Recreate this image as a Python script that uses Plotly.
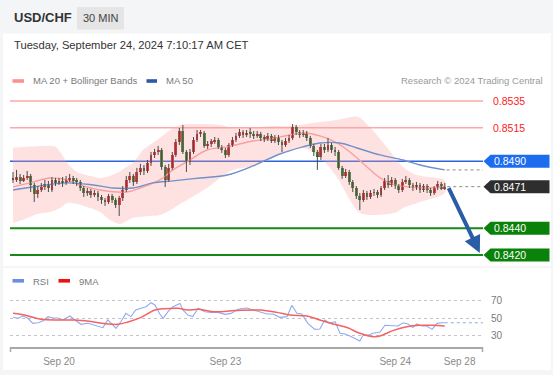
import plotly.graph_objects as go

# ---------------- DATA ----------------
open_ = [0.84775,0.84760,0.84782,0.84753,0.84775,0.84790,0.84723,0.84656,0.84685,0.84708,
         0.84730,0.84685,0.84760,0.84738,0.84753,0.84738,0.84760,0.84775,0.84753,0.84745,
         0.84700,0.84663,0.84678,0.84648,0.84663,0.84633,0.84611,0.84596,0.84641,0.84611,
         0.84573,0.84626,0.84685,0.84760,0.84790,0.84745,0.84820,0.84850,0.84827,0.84887,
         0.84947,0.84969,0.84984,0.84857,0.84760,0.84850,0.84947,0.85044,0.85126,0.84969,
         0.84895,0.84969,0.85059,0.85104,0.85111,0.85014,0.85029,0.85051,0.85059,0.85007,
         0.84984,0.84947,0.85021,0.85059,0.85089,0.85119,0.85096,0.85111,0.85104,0.85089,
         0.85104,0.85074,0.85066,0.85089,0.85051,0.85081,0.85044,0.85021,0.85051,0.85074,
         0.85156,0.85119,0.85096,0.85111,0.85074,0.85014,0.84969,0.84932,0.85007,0.84984,
         0.85021,0.84984,0.84969,0.84850,0.84790,0.84820,0.84745,0.84700,0.84641,0.84611,
         0.84663,0.84633,0.84663,0.84670,0.84648,0.84700,0.84753,0.84723,0.84760,0.84715,
         0.84685,0.84745,0.84760,0.84723,0.84700,0.84723,0.84685,0.84715,0.84685,0.84663,
         0.84700,0.84730,0.84693]
high = [0.84820,0.84835,0.84805,0.84797,0.84827,0.84805,0.84738,0.84715,0.84738,0.84760,
        0.84753,0.84782,0.84775,0.84775,0.84782,0.84790,0.84805,0.84790,0.84775,0.84760,
        0.84715,0.84700,0.84693,0.84685,0.84678,0.84648,0.84626,0.84656,0.84656,0.84626,
        0.84641,0.84715,0.84790,0.84820,0.84805,0.84850,0.84880,0.84872,0.84909,0.84969,
        0.84992,0.85014,0.84999,0.84872,0.84880,0.84969,0.85066,0.85148,0.85171,0.84984,
        0.84992,0.85081,0.85133,0.85133,0.85126,0.85051,0.85066,0.85081,0.85074,0.85021,
        0.84999,0.85036,0.85081,0.85111,0.85141,0.85133,0.85133,0.85148,0.85126,0.85126,
        0.85119,0.85096,0.85111,0.85104,0.85096,0.85096,0.85059,0.85074,0.85096,0.85178,
        0.85171,0.85133,0.85133,0.85126,0.85089,0.85029,0.84984,0.85029,0.85029,0.85074,
        0.85036,0.85007,0.84984,0.84865,0.84842,0.84835,0.84760,0.84715,0.84663,0.84685,
        0.84678,0.84685,0.84693,0.84685,0.84715,0.84775,0.84797,0.84782,0.84775,0.84730,
        0.84768,0.84790,0.84775,0.84738,0.84745,0.84738,0.84730,0.84730,0.84700,0.84715,
        0.84753,0.84745,0.84738]
low = [0.84738,0.84745,0.84730,0.84745,0.84760,0.84670,0.84596,0.84626,0.84670,0.84685,
       0.84670,0.84670,0.84715,0.84723,0.84708,0.84723,0.84745,0.84730,0.84715,0.84678,
       0.84633,0.84641,0.84626,0.84633,0.84603,0.84581,0.84566,0.84581,0.84588,0.84551,
       0.84491,0.84603,0.84670,0.84738,0.84715,0.84730,0.84797,0.84797,0.84812,0.84865,
       0.84924,0.84947,0.84835,0.84708,0.84745,0.84835,0.84932,0.85021,0.84954,0.84820,
       0.84872,0.84954,0.85044,0.85081,0.84999,0.84992,0.85007,0.85029,0.84992,0.84962,
       0.84924,0.84932,0.85007,0.85044,0.85074,0.85074,0.85081,0.85074,0.85066,0.85074,
       0.85051,0.85044,0.85051,0.85036,0.85036,0.85021,0.84969,0.85007,0.85036,0.85059,
       0.85096,0.85074,0.85081,0.85051,0.84999,0.84939,0.84835,0.84909,0.84962,0.84969,
       0.84962,0.84939,0.84835,0.84768,0.84775,0.84723,0.84670,0.84618,0.84536,0.84596,
       0.84611,0.84618,0.84641,0.84626,0.84633,0.84685,0.84700,0.84708,0.84693,0.84663,
       0.84670,0.84730,0.84700,0.84678,0.84685,0.84663,0.84670,0.84663,0.84641,0.84648,
       0.84685,0.84685,0.84685]
close = [0.84760,0.84782,0.84753,0.84775,0.84790,0.84723,0.84656,0.84685,0.84708,0.84730,
         0.84700,0.84760,0.84738,0.84753,0.84738,0.84760,0.84775,0.84753,0.84745,0.84700,
         0.84663,0.84678,0.84648,0.84663,0.84633,0.84611,0.84596,0.84641,0.84611,0.84573,
         0.84626,0.84685,0.84760,0.84790,0.84745,0.84820,0.84850,0.84827,0.84887,0.84947,
         0.84969,0.84984,0.84857,0.84760,0.84850,0.84947,0.85044,0.85126,0.84969,0.84895,
         0.84969,0.85059,0.85104,0.85111,0.85014,0.85029,0.85051,0.85059,0.85007,0.84984,
         0.84947,0.85021,0.85059,0.85089,0.85119,0.85096,0.85111,0.85104,0.85089,0.85104,
         0.85074,0.85066,0.85089,0.85051,0.85081,0.85044,0.85021,0.85051,0.85074,0.85156,
         0.85119,0.85096,0.85111,0.85074,0.85014,0.84969,0.84932,0.85007,0.84984,0.85021,
         0.84984,0.84969,0.84850,0.84790,0.84820,0.84745,0.84700,0.84641,0.84611,0.84663,
         0.84633,0.84663,0.84670,0.84648,0.84700,0.84753,0.84723,0.84760,0.84715,0.84685,
         0.84745,0.84760,0.84723,0.84700,0.84723,0.84685,0.84715,0.84685,0.84663,0.84700,
         0.84730,0.84693,0.84710]

bb_up_x = [0,7.6,11.9,13.8,15.3,18.1,21.8,24.6,27.4,29.4,31.6,33.9,36.7,40.7,44.4,47.2,52.8,
           58.5,62.1,66.9,72.6,78.2,84.7,91.5,97.5,100.8,105.6,110.2,114.1,119.8,122]
bb_up = [0.85000,0.85014,0.85010,0.84950,0.84887,0.84820,0.84790,0.84775,0.84790,0.84812,
         0.84850,0.84887,0.84984,0.85059,0.85133,0.85171,0.85178,0.85171,0.85148,0.85148,
         0.85163,0.85163,0.85186,0.85208,0.85231,0.85156,0.85007,0.84857,0.84797,0.84775,0.84760]
bb_lo_x = [0,3.4,6.8,10.5,13.3,15.3,18.1,20.9,24.6,27.4,30.2,33.9,38.7,41.5,43.5,46.3,49.2,
           54.8,58.5,62.1,67.8,72.6,76.8,81.9,86.7,91.5,95.2,98,103.7,108.5,110.2,115,122]
bb_lo = [0.84439,0.84469,0.84506,0.84521,0.84551,0.84588,0.84581,0.84558,0.84521,0.84461,
         0.84432,0.84476,0.84491,0.84499,0.84521,0.84566,0.84611,0.84700,0.84775,0.84835,
         0.84865,0.84924,0.84969,0.84999,0.84932,0.84782,0.84611,0.84514,0.84499,0.84521,
         0.84551,0.84596,0.84663]
ma20_x = [0,4.8,10.5,15.3,18.9,24.6,32.2,35.9,41.5,45.2,50,54.8,60.5,67.8,72.6,78.2,82.5,86.7,
          91,95.2,99.4,103.7,107.9,112.1,117.8,122]
ma20 = [0.84708,0.84738,0.84775,0.84760,0.84723,0.84685,0.84670,0.84700,0.84760,0.84835,
        0.84909,0.84984,0.85007,0.85051,0.85066,0.85096,0.85111,0.85089,0.85044,0.84969,
        0.84872,0.84775,0.84723,0.84708,0.84700,0.84715]
ma50_x = [0,5.6,15.3,22.6,28.2,33.9,39.5,45.2,52.8,60.5,67.8,75.4,81.9,86.7,92.4,97.2,103.7,
          110.2,115,122]
ma50 = [0.84685,0.84708,0.84738,0.84723,0.84700,0.84700,0.84738,0.84753,0.84775,0.84797,
        0.84865,0.84954,0.85007,0.85036,0.85036,0.84999,0.84947,0.84909,0.84872,0.84835]

rsi_x = [0,1.4,2.8,4.2,5.6,7.1,8.5,9.9,11.3,12.7,14.1,16.1,17.5,19.2,21.2,22.6,24,25.4,26.8,
         27.7,29.1,30.5,31.9,33.3,34.7,36.2,37.6,39,40.1,41.5,42.4,43.8,45.2,47.2,48,49.4,
         50.8,52.3,54.2,55.9,57.9,59.9,61.6,63.6,66.1,67.8,69.8,71.8,73.4,75.4,77.4,78.8,
         80.2,81.6,83.3,85.3,86.7,88.1,89.5,91,92.4,93.8,95.2,96.6,98,98.9,100.3,101.7,
         103.7,105.1,107.1,108.8,110.2,111.6,113,114.1,115.5,116.9,118.4,119.8,121.2,122]
rsi = [51.1,50,52.6,50,44.3,45,47.2,51.9,50.4,50.4,48.1,52.6,48.1,43.2,44.3,42.8,41.3,39.4,
       48.1,44.3,38.6,46.3,55.6,51.9,59.4,61.3,63.2,67.7,65.1,54.9,50,57.5,63.2,66.9,59.4,
       53.7,51.9,61.3,57.5,56.7,56.7,54.5,55.6,60.2,61.7,59.4,56.7,54.9,54.9,51.1,51.9,
       64.7,55.6,54.9,44.3,37.5,37.9,48.1,44.3,46.3,33,32.3,30,27.4,24.4,30.8,30.8,33,
       34.5,42.1,41.3,41.3,45,43.6,39.5,43.6,41.3,41.3,37.5,44.3,45,45]
ma9_x = [0,2.8,5.6,7.9,12.7,17.5,22,26.8,29.7,32.5,36.2,40.1,42.9,46.6,49.4,52.3,57.1,62.7,
         69.8,74.6,78.2,83.1,86.7,90.4,94.4,98,101.7,103.7,107.3,111.3,115,118.6,122]
ma9 = [55.6,54.1,51.1,48.9,48.1,48.1,46.3,43.6,43.2,45.9,51.1,59.4,60.9,61.3,59.4,60.2,57.5,
       58.7,59.4,56.7,53.7,52.6,48.1,43.6,39.5,33,29.2,30,36,40.5,42.1,42.1,41.3]

resistance = [0.8535, 0.8515]
pivot = 0.8490
last_price = 0.8471
support = [0.8440, 0.8420]
tick_pos = [13, 60, 108, 126.2]
tick_text = ["Sep 20", "Sep 23", "Sep 24", "Sep 28"]
rsi_levels = [30, 50, 70]

# ---------------- LAYOUT HELPERS ----------------
W, H = 553, 375
def px(X): return X / W
def py(Y): return 1 - Y / H

FONT = "Liberation Sans, Arial, sans-serif"
RED = "#e3141b"
GREEN = "#217a21"
X_RANGE = [-0.85, 132.8]

fig = go.Figure()

# Bollinger band fill
fig.add_trace(go.Scatter(
    x=bb_up_x + bb_lo_x[::-1], y=bb_up + bb_lo[::-1], fill="toself",
    fillcolor="rgba(252,160,160,0.3)", line=dict(width=0, shape="spline", smoothing=0.8),
    mode="lines", hoverinfo="skip", xaxis="x", yaxis="y"))
# MA20
fig.add_trace(go.Scatter(x=ma20_x, y=ma20, mode="lines",
    line=dict(color="#f7a0a0", width=1.4, shape="spline"), xaxis="x", yaxis="y"))
# MA50
fig.add_trace(go.Scatter(x=ma50_x, y=ma50, mode="lines",
    line=dict(color="#7390c8", width=1.4, shape="spline"), xaxis="x", yaxis="y"))
# dotted extensions
fig.add_trace(go.Scatter(x=[ma50_x[-1] + 0.5, X_RANGE[1]], y=[ma50[-1], ma50[-1]], mode="lines",
    line=dict(color="#8a8a8a", width=1, dash="dot"), xaxis="x", yaxis="y"))
fig.add_trace(go.Scatter(x=[len(close) - 0.3, X_RANGE[1]], y=[last_price, last_price], mode="lines",
    line=dict(color="#8a8a8a", width=1, dash="dot"), xaxis="x", yaxis="y"))

# candles
n = len(close)
wx, wy = [], []
for i in range(n):
    wx += [i, i, None]
    wy += [low[i], high[i], None]
fig.add_trace(go.Scatter(x=wx, y=wy, mode="lines", line=dict(color="#4a4a4a", width=1),
                         xaxis="x", yaxis="y", hoverinfo="skip"))
ux = [i for i in range(n) if close[i] >= open_[i]]
dx = [i for i in range(n) if close[i] < open_[i]]
fig.add_trace(go.Bar(x=ux, y=[max(close[i] - open_[i], 0.00003) for i in ux],
                     base=[open_[i] for i in ux], width=0.8, marker=dict(color=RED, line=dict(width=0)),
                     xaxis="x", yaxis="y"))
fig.add_trace(go.Bar(x=dx, y=[max(open_[i] - close[i], 0.00003) for i in dx],
                     base=[close[i] for i in dx], width=0.8, marker=dict(color=GREEN, line=dict(width=0)),
                     xaxis="x", yaxis="y"))

# RSI panel
fig.add_trace(go.Scatter(x=rsi_x, y=rsi, mode="lines", line=dict(color="#8eaaf2", width=1.1),
                         xaxis="x2", yaxis="y2"))
fig.add_trace(go.Scatter(x=[rsi_x[-1], X_RANGE[1]], y=[rsi[-1], rsi[-1]], mode="lines",
                         line=dict(color="#8eaaf2", width=1.1, dash="dot"), xaxis="x2", yaxis="y2"))
fig.add_trace(go.Scatter(x=ma9_x, y=ma9, mode="lines", line=dict(color="#f46262", width=1.5, shape="spline"),
                         xaxis="x2", yaxis="y2"))

shapes = []
annotations = []

# white card + header box
shapes.append(dict(type="rect", xref="paper", yref="paper", x0=px(3), x1=px(551), y0=py(370), y1=py(33.5),
                   fillcolor="white", line=dict(width=0), layer="below"))
shapes.append(dict(type="rect", xref="paper", yref="paper", x0=px(77), x1=px(124), y0=py(29.5), y1=py(7),
                   fillcolor="#e5e5e5", line=dict(width=0), layer="below"))
shapes.append(dict(type="line", xref="paper", yref="paper", x0=px(3), x1=px(551), y0=py(267), y1=py(267),
                   line=dict(color="#ececec", width=1), layer="below"))

# level lines
def hline(level, color, width):
    shapes.append(dict(type="line", xref="paper", yref="y", x0=px(10), x1=px(483), y0=level, y1=level,
                       line=dict(color=color, width=width), layer="below"))
for r in resistance:
    hline(r, "#ffa8a8", 1.5)
    annotations.append(dict(x=px(491), y=r, xref="paper", yref="y", text=f"{r:.4f}", showarrow=False,
                            xanchor="left", yanchor="middle", font=dict(color="#ff2020", size=10.5, family=FONT)))
hline(pivot, "#2e62da", 1.5)
for s in support:
    hline(s, "#168a16", 2)

def tag(level, color):
    shapes.append(dict(type="path", xref="paper", yref="y", xsizemode="pixel", ysizemode="pixel",
                       xanchor=px(483.5), yanchor=level,
                       path="M 0,0 L 7,6.5 L 66,6.5 L 66,-6.5 L 7,-6.5 Z",
                       fillcolor=color, line=dict(width=0)))
    annotations.append(dict(x=px(492), y=level, xref="paper", yref="y", text=f"{level:.4f}", showarrow=False,
                            xanchor="left", yanchor="middle", font=dict(color="white", size=10.5, family=FONT)))
tag(pivot, "#1d6cf0")
tag(last_price, "#2e2e2e")
for s in support:
    tag(s, "#0a820a")

# forecast arrow
annotations.append(dict(x=131.9, y=support[1] + 0.00015, xref="x", yref="y", ax=122.9, ay=last_price,
                        axref="x", ayref="y", text="", showarrow=True, arrowhead=2, arrowsize=0.85,
                        arrowwidth=4, arrowcolor="#2b5ca6"))

# header texts
annotations += [
    dict(x=px(12), y=py(17.5), xref="paper", yref="paper", text="<b>USD/CHF</b>", showarrow=False,
         xanchor="left", yanchor="middle", font=dict(size=13, color="#333", family=FONT)),
    dict(x=px(100.5), y=py(18), xref="paper", yref="paper", text="30 MIN", showarrow=False,
         xanchor="center", yanchor="middle", font=dict(size=11, color="#444", family=FONT)),
    dict(x=px(12), y=py(45), xref="paper", yref="paper", text="Tuesday, September 24, 2024 7:10:17 AM CET",
         showarrow=False, xanchor="left", yanchor="middle", font=dict(size=11.2, color="#333", family=FONT)),
    dict(x=px(31), y=py(81), xref="paper", yref="paper", text="MA 20 + Bollinger Bands", showarrow=False,
         xanchor="left", yanchor="middle", font=dict(size=9.5, color="#7a7a7a", family=FONT)),
    dict(x=px(163.5), y=py(81), xref="paper", yref="paper", text="MA 50", showarrow=False,
         xanchor="left", yanchor="middle", font=dict(size=9.5, color="#7a7a7a", family=FONT)),
    dict(x=px(545), y=py(81), xref="paper", yref="paper", text="Research © 2024 Trading Central", showarrow=False,
         xanchor="right", yanchor="middle", font=dict(size=9.5, color="#9a9a9a", family=FONT)),
    dict(x=px(31), y=py(281), xref="paper", yref="paper", text="RSI", showarrow=False,
         xanchor="left", yanchor="middle", font=dict(size=9.5, color="#7a7a7a", family=FONT)),
    dict(x=px(76.5), y=py(281), xref="paper", yref="paper", text="9MA", showarrow=False,
         xanchor="left", yanchor="middle", font=dict(size=9.5, color="#7a7a7a", family=FONT)),
]
# legend swatches
def swatch(x0, x1, yc, color):
    shapes.append(dict(type="rect", xref="paper", yref="paper", x0=px(x0), x1=px(x1), y0=py(yc + 1.8),
                       y1=py(yc - 1.8), fillcolor=color, line=dict(width=0)))
swatch(12.5, 24, 81, "#ff9090")
swatch(146.5, 157, 81, "#2d5aa8")
swatch(12.5, 24, 280.8, "#6b8fe6")
swatch(58.5, 70, 280.8, "#ee1111")

# x-axis end ticks
for xe in (10.5, 482.5):
    shapes.append(dict(type="line", xref="paper", yref="paper", x0=px(xe), x1=px(xe), y0=py(347), y1=py(352),
                       line=dict(color="#a8a8a8", width=1.5)))

fig.update_layout(
    width=W, height=H, margin=dict(l=0, r=0, t=0, b=0),
    paper_bgcolor="#f3f5f6", plot_bgcolor="rgba(0,0,0,0)",
    showlegend=False, barmode="overlay", bargap=0,
    font=dict(family=FONT),
    xaxis=dict(domain=[px(10), px(483)], range=X_RANGE, visible=False, anchor="y", fixedrange=True),
    yaxis=dict(domain=[py(265), py(92)], range=[0.84125, 0.85417], visible=False, anchor="x"),
    xaxis2=dict(domain=[px(10), px(483)], range=X_RANGE, anchor="y2", showline=True, linecolor="#a8a8a8",
                linewidth=1.5, tickvals=tick_pos, ticktext=tick_text, ticks="", showgrid=False,
                zeroline=False, ticklabelstandoff=4, tickfont=dict(size=10, color="#8a8a8a", family=FONT)),
    yaxis2=dict(domain=[py(347), py(290)], range=[17.5, 82.05], anchor="x2", side="right",
                tickvals=rsi_levels, showgrid=True, gridcolor="#c4c4c4", griddash="dot", gridwidth=1,
                zeroline=False, showline=False, ticks="", ticklabelstandoff=7,
                tickfont=dict(size=10, color="#7a7a7a", family=FONT)),
    shapes=shapes, annotations=annotations,
)

fig.write_html("out.html")
